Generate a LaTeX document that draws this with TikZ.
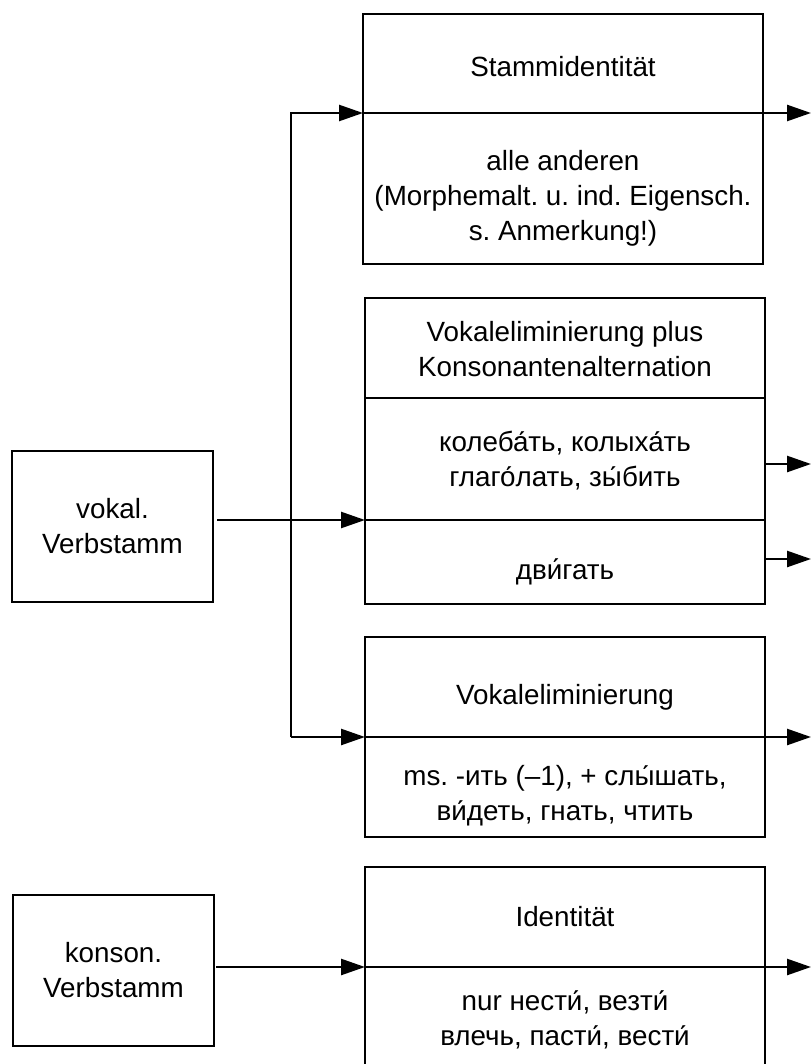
\documentclass[tikz,border=0pt]{standalone}
\usepackage{fontspec}
\setmainfont{Liberation Sans}
\usetikzlibrary{arrows.meta}
\frenchspacing
\newcommand{\boxfont}{\fontsize{27.8}{35}\selectfont}
\begin{document}
\begin{tikzpicture}[x=1pt,y=-1pt,
  part/.style={draw, line width=2.5pt, minimum width=400pt, inner sep=0pt,
    outer sep=0pt, anchor=north west},
  stem/.style={draw, line width=2.5pt, minimum width=201pt, minimum height=151pt,
    inner sep=0pt, outer sep=0pt, align=center, anchor=north west, font=\boxfont},
  label text/.style={align=center, inner sep=0pt, font=\boxfont},
  arr/.style={line width=2.5pt, -{Triangle[length=24pt,width=16pt]}}]
\useasboundingbox (0,0) rectangle (811,1064);

% stem boxes
\node[stem] (vok) at (12,451) {vokal.\\Verbstamm};
\node[stem] (kon) at (13,895) {konson.\\Verbstamm};

% Stammidentität
\node[part, minimum height=99pt] (b1a) at (363,14) {};
\node[part, minimum height=151pt] (b1b) at (b1a.south west) {};
\node[label text, yshift=-3pt] (t1a) at (b1a.center) {Stammidentität};
\node[label text, yshift=-10pt] (t1b) at (b1b.center)
  {alle anderen\\(Morphemalt. u. ind. Eigensch.\\s. Anmerkung!)};

% Vokaleliminierung plus Konsonantenalternation
\node[part, minimum height=100pt] (b2a) at (365,298) {};
\node[part, minimum height=122pt] (b2b) at (b2a.south west) {};
\node[part, minimum height=84pt] (b2c) at (b2b.south west) {};
\node[label text, yshift=-1pt] (t2a) at (b2a.center)
  {Vokaleliminierung plus\\Konsonantenalternation};
\node[label text, yshift=-2pt] (t2b) at (b2b.center)
  {колеба́ть, колыха́ть\\глаго́лать, зы́бить};
\node[label text, yshift=-10pt] (t2c) at (b2c.center) {дви́гать};

% Vokaleliminierung
\node[part, minimum height=100pt] (b3a) at (365,637) {};
\node[part, minimum height=100pt] (b3b) at (b3a.south west) {};
\node[label text, yshift=-10pt] (t3a) at (b3a.center) {Vokaleliminierung};
\node[label text, yshift=-9pt] (t3b) at (b3b.center)
  {ms. -ить (--1), + слы́шать,\\ви́деть, гнать, чтить};

% Identität
\node[part, minimum height=100pt] (b4a) at (365,867) {};
\node[part, minimum height=102pt] (b4b) at (b4a.south west) {};
\node[label text] (t4a) at (b4a.center) {Identität};
\node[label text, yshift=-2pt] (t4b) at (b4b.center)
  {nur нести́, везти́\\влечь, пасти́, вести́};

% branching trunk
\coordinate (ttop) at (291,113);
\coordinate (tbot) at (291,737);
\coordinate (e1) at (811,113);
\coordinate (e2) at (811,464);
\coordinate (e3) at (811,559);
\coordinate (e4) at (811,737);
\coordinate (e5) at (811,967);

\draw[arr] (tbot) -- (ttop) -- (b1a.south west);
\draw[arr] (tbot) -- (b3a.south west);
\draw[arr] ([xshift=4pt]vok.east |- b2b.south west) -- (b2b.south west);
\draw[arr] ([xshift=2pt]kon.east |- b4a.south west) -- (b4a.south west);

% outgoing arrows
\draw[arr] (b1a.south west) -- (e1);
\draw[arr] (b2b.east |- e2) -- (e2);
\draw[arr] (b2c.east |- e3) -- (e3);
\draw[arr] (b3a.south west) -- (e4);
\draw[arr] (b4a.south west) -- (e5);
\end{tikzpicture}
\end{document}
